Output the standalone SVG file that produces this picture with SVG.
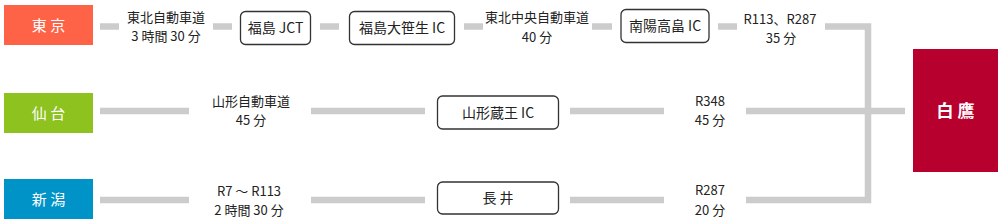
<svg xmlns="http://www.w3.org/2000/svg" width="1000" height="224" viewBox="0 0 1000 224">
<style>
.t{font-family:"Noto Sans CJK JP","Noto Sans",sans-serif;font-size:13px;fill:#222;text-anchor:middle}
.b{font-family:"Noto Sans CJK JP","Noto Sans",sans-serif;font-size:14px;fill:#222;text-anchor:middle}
.w{font-family:"Noto Sans CJK JP","Noto Sans",sans-serif;font-size:15px;fill:#fff;text-anchor:middle}
.wb{font-family:"Noto Sans CJK JP","Noto Sans",sans-serif;font-size:17px;fill:#fff;text-anchor:middle;font-weight:bold}
.node{fill:#fff;stroke:#333;stroke-width:1.3}
.c{stroke:#cccccc;stroke-width:6.5;fill:none}
</style>
<g id="connectors">
<line class="c" x1="100" y1="26.5" x2="119" y2="26.5"/>
<line class="c" x1="213" y1="26.5" x2="232" y2="26.5"/>
<line class="c" x1="320" y1="26.5" x2="339" y2="26.5"/>
<line class="c" x1="464" y1="26.5" x2="483" y2="26.5"/>
<line class="c" x1="592" y1="26.5" x2="612" y2="26.5"/>
<line class="c" x1="718" y1="26.5" x2="737" y2="26.5"/>
<polyline class="c" points="825,26.5 868,26.5 868,200 746,200"/>
<line class="c" x1="100" y1="111" x2="189" y2="111"/>
<line class="c" x1="311" y1="111" x2="425" y2="111"/>
<line class="c" x1="570" y1="111" x2="664" y2="111"/>
<line class="c" x1="746" y1="111" x2="905" y2="111"/>
<line class="c" x1="100" y1="200" x2="189" y2="200"/>
<line class="c" x1="311" y1="200" x2="425" y2="200"/>
<line class="c" x1="570" y1="200" x2="664" y2="200"/>
</g>
<g id="tokyo"><rect x="4" y="5" width="89" height="40" fill="#ff6347"/><text class="w" x="48.5" y="30.5">東 京</text></g>
<g id="sendai"><rect x="4" y="93" width="89" height="40" fill="#8dc21f"/><text class="w" x="48.5" y="118.5">仙 台</text></g>
<g id="niigata"><rect x="4" y="179" width="89" height="40" fill="#0093c8"/><text class="w" x="48.5" y="204.5">新 潟</text></g>
<g id="shirataka"><rect x="913" y="49" width="85" height="123" fill="#b8002e"/><text class="wb" x="955.5" y="117">白 鷹</text></g>
<g id="fukushima-jct"><rect class="node" x="240.5" y="11.5" width="70" height="33" rx="5"/><text class="b" x="275.5" y="33">福島 JCT</text></g>
<g id="fukushima-osasou"><rect class="node" x="349.5" y="11.5" width="105" height="33" rx="5"/><text class="b" x="402" y="33">福島大笹生 IC</text></g>
<g id="nanyo"><rect class="node" x="621" y="9.5" width="88" height="33" rx="5"/><text class="b" x="665" y="31">南陽高畠 IC</text></g>
<g id="yamagata-zao"><rect class="node" x="437.5" y="96" width="121" height="33" rx="5"/><text class="b" x="498" y="117.5">山形蔵王 IC</text></g>
<g id="nagai"><rect class="node" x="437.5" y="182" width="121" height="32" rx="5"/><text class="b" x="498" y="203">長 井</text></g>
<g id="labels">
<text class="t" x="166" y="22">東北自動車道</text>
<text class="t" x="166" y="41">3 時間 30 分</text>
<text class="t" x="537" y="22">東北中央自動車道</text>
<text class="t" x="537" y="42">40 分</text>
<text class="t" x="780" y="24">R113、R287</text>
<text class="t" x="781" y="43">35 分</text>
<text class="t" x="251" y="106">山形自動車道</text>
<text class="t" x="251" y="125">45 分</text>
<text class="t" x="710" y="106">R348</text>
<text class="t" x="710" y="125">45 分</text>
<text class="t" x="249" y="196">R7 ～ R113</text>
<text class="t" x="249" y="215">2 時間 30 分</text>
<text class="t" x="710" y="195">R287</text>
<text class="t" x="710" y="215">20 分</text>
</g>
</svg>
